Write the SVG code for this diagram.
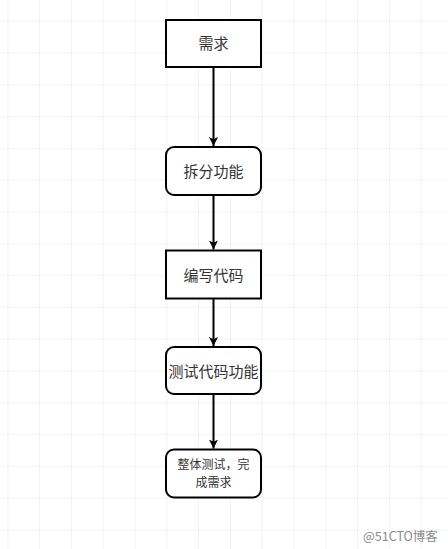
<svg xmlns="http://www.w3.org/2000/svg" width="448" height="549" viewBox="0 0 448 549">
<defs>
<pattern id="grid" x="7.3" y="20.7" width="31.8" height="31.8" patternUnits="userSpaceOnUse">
<path d="M0 0 H31.8 M0 0 V31.8" fill="none" stroke="#ececf1" stroke-width="1.2"/>
</pattern>
<marker id="arr" viewBox="0 0 10 10" refX="10" refY="5" markerWidth="4.5" markerHeight="4.5" orient="auto" markerUnits="strokeWidth">
<path d="M0 0 L10 5 L0 10 L2.5 5 Z" fill="#000"/>
</marker>
</defs>
<style>
.box{fill:#fff;stroke:#000;stroke-width:2}
.lbl{font-family:"Noto Sans CJK SC","Noto Sans",sans-serif;font-size:15px;fill:#333;text-anchor:middle}
.small{font-size:12px}
.edge{fill:none;stroke:#000;stroke-width:2}
.wm{font-family:"Noto Sans CJK SC","Liberation Sans",sans-serif;font-size:12.5px;fill:#8a8a8a}
</style>
<rect width="448" height="549" fill="#fff"/>
<rect width="448" height="549" fill="url(#grid)"/>
<g id="connectors">
<path class="edge" d="M213.5 67 V146" marker-end="url(#arr)"/>
<path class="edge" d="M213.5 195 V249.5" marker-end="url(#arr)"/>
<path class="edge" d="M213.5 298.5 V346" marker-end="url(#arr)"/>
<path class="edge" d="M213.5 394 V448.5" marker-end="url(#arr)"/>
</g>
<g id="n1">
<rect class="box" x="166" y="20" width="95" height="47"/>
<text class="lbl" x="213.5" y="49">需求</text>
</g>
<g id="n2">
<rect class="box" x="166" y="147" width="95" height="48" rx="8"/>
<text class="lbl" x="213.5" y="176.5">拆分功能</text>
</g>
<g id="n3">
<rect class="box" x="166" y="250.5" width="95" height="48"/>
<text class="lbl" x="213.5" y="280.5">编写代码</text>
</g>
<g id="n4">
<rect class="box" x="166" y="347" width="95" height="47" rx="8"/>
<text class="lbl" x="213.5" y="377">测试代码功能</text>
</g>
<g id="n5">
<rect class="box" x="166" y="449.5" width="95" height="48" rx="8"/>
<text class="lbl small" x="213.5" y="469"><tspan x="213.5">整体测试，完</tspan><tspan x="213.5" dy="17.6">成需求</tspan></text>
</g>
<text class="wm" x="363" y="541">@51CTO博客</text>
</svg>
